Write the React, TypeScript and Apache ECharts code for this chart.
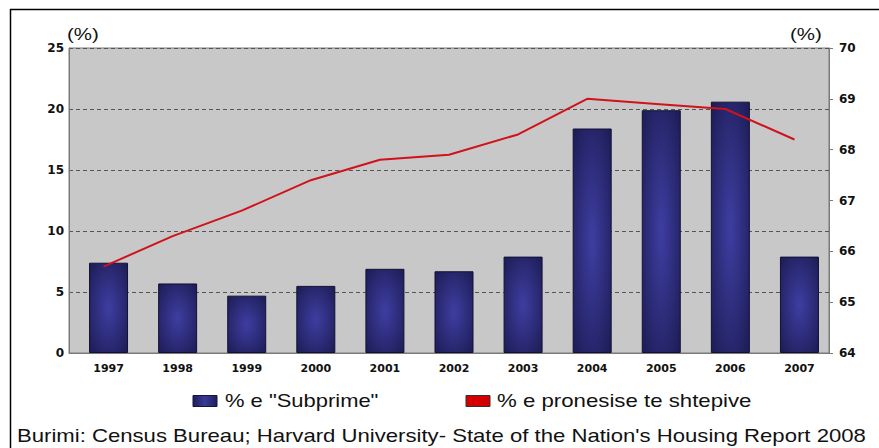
import React, { useEffect, useRef } from "react";
import * as echarts from "echarts";

const years = ["1997", "1998", "1999", "2000", "2001", "2002", "2003", "2004", "2005", "2006", "2007"];
const subprime = [7.4, 5.7, 4.7, 5.5, 6.9, 6.7, 7.9, 18.4, 19.9, 20.6, 7.9];
const ownership = [65.7, 66.3, 66.8, 67.4, 67.8, 67.9, 68.3, 69.0, 68.9, 68.8, 68.2];
const seriesNames = ['% e "Subprime"', "% e pronesise te shtepive"];
const unitLabel = "(%)";
const sourceText = "Burimi: Census Bureau; Harvard University- State of the Nation's Housing Report 2008";

export default function App() {
  const ref = useRef<HTMLDivElement>(null);
  useEffect(() => {
    if (!ref.current) return;
    const chart = echarts.init(ref.current, null, { renderer: "svg" });
    const arial = "Liberation Sans, Arial, sans-serif";
    const wide = "DejaVu Sans, Verdana, sans-serif";
    const barGrad = new echarts.graphic.RadialGradient(0.5, 0.5, 0.7, [
      { offset: 0, color: "#3e3ea2" },
      { offset: 1, color: "#1d1c55" },
    ]);
    const legendBarColor = new echarts.graphic.LinearGradient(0, 0, 1, 0, [
      { offset: 0, color: "#1f1e5c" },
      { offset: 0.5, color: "#3a3a98" },
      { offset: 1, color: "#1f1e5c" },
    ]);
    const stretchedText = (x: number, y: number, text: string, size: number, sx: number, align = "left") => ({
      type: "text",
      x,
      y,
      scaleX: sx,
      silent: true,
      style: { x: 0, y: 0, text, fontSize: size, fill: "#111", fontFamily: arial, align, verticalAlign: "middle" },
    });
    chart.setOption({
      animation: false,
      textStyle: { fontFamily: arial },
      grid: [
        { left: 69, right: 50, top: 48, bottom: 95, show: true, backgroundColor: "#c8c8c8", borderColor: "#7a7a7a", borderWidth: 1 },
        { left: 74, right: 45, top: 48, bottom: 95, show: false },
      ],
      xAxis: [
        {
          type: "category", data: years, gridIndex: 0,
          axisLine: { lineStyle: { color: "#7a7a7a" } },
          axisTick: { show: false },
          axisLabel: { show: false },
        },
        {
          type: "category", data: years, gridIndex: 1,
          axisLine: { show: false },
          axisTick: { show: false },
          axisLabel: { color: "#111", fontWeight: "bold", fontSize: 11, margin: 10, fontFamily: wide },
        },
      ],
      yAxis: [
        {
          type: "value", min: 0, max: 25, interval: 5, gridIndex: 0,
          axisLine: { show: true, lineStyle: { color: "#7a7a7a" } },
          axisTick: { show: false },
          axisLabel: { color: "#111", fontWeight: "bold", fontSize: 12, margin: 5, fontFamily: wide },
          splitLine: { show: true, lineStyle: { color: "#555", type: [4, 3], width: 1 } },
        },
        {
          type: "value", min: 64, max: 70, interval: 1, position: "right", gridIndex: 0,
          axisLine: { show: true, lineStyle: { color: "#7a7a7a" } },
          axisTick: { show: true, length: 4, lineStyle: { color: "#7a7a7a" } },
          axisLabel: { color: "#111", fontWeight: "bold", fontSize: 12, margin: 10, fontFamily: wide },
          splitLine: { show: false },
        },
        {
          type: "value", min: 0, max: 25, interval: 5, gridIndex: 1, show: false,
          splitLine: { show: false },
        },
      ],
      series: [
        {
          name: seriesNames[0], type: "bar", data: subprime, xAxisIndex: 1, yAxisIndex: 2, barWidth: 39,
          itemStyle: { color: barGrad, borderColor: "#121134", borderWidth: 1 },
        },
        {
          name: seriesNames[1], type: "line", data: ownership, xAxisIndex: 0, yAxisIndex: 1, symbol: "none",
          lineStyle: { color: "#d0121a", width: 2 }, itemStyle: { color: "#d0121a" }, z: 5,
        },
      ],
      graphic: [
        { type: "line", silent: true, shape: { x1: 10, y1: 9.5, x2: 879, y2: 9.5 }, style: { stroke: "#000", lineWidth: 1.5 } },
        { type: "line", silent: true, shape: { x1: 10.5, y1: 9, x2: 10.5, y2: 448 }, style: { stroke: "#000", lineWidth: 1.5 } },
        stretchedText(67, 34.5, unitLabel, 16, 1.28),
        stretchedText(790, 34, unitLabel, 16, 1.28),
        { type: "rect", silent: true, shape: { x: 193, y: 395.5, width: 24, height: 11 }, style: { fill: legendBarColor, stroke: "#15143a", lineWidth: 1 } },
        stretchedText(225, 401, seriesNames[0], 18, 1.22),
        { type: "rect", silent: true, shape: { x: 466, y: 395.5, width: 24, height: 11 }, style: { fill: "#d40000", stroke: "#333", lineWidth: 1 } },
        stretchedText(497, 401, seriesNames[1], 18, 1.235),
        stretchedText(17, 435.5, sourceText, 17.5, 1.265),
      ],
    });
    return () => chart.dispose();
  }, []);
  return <div ref={ref} style={{ width: 879, height: 448, position: "absolute", left: 0, top: 0, background: "#fff" }} />;
}
